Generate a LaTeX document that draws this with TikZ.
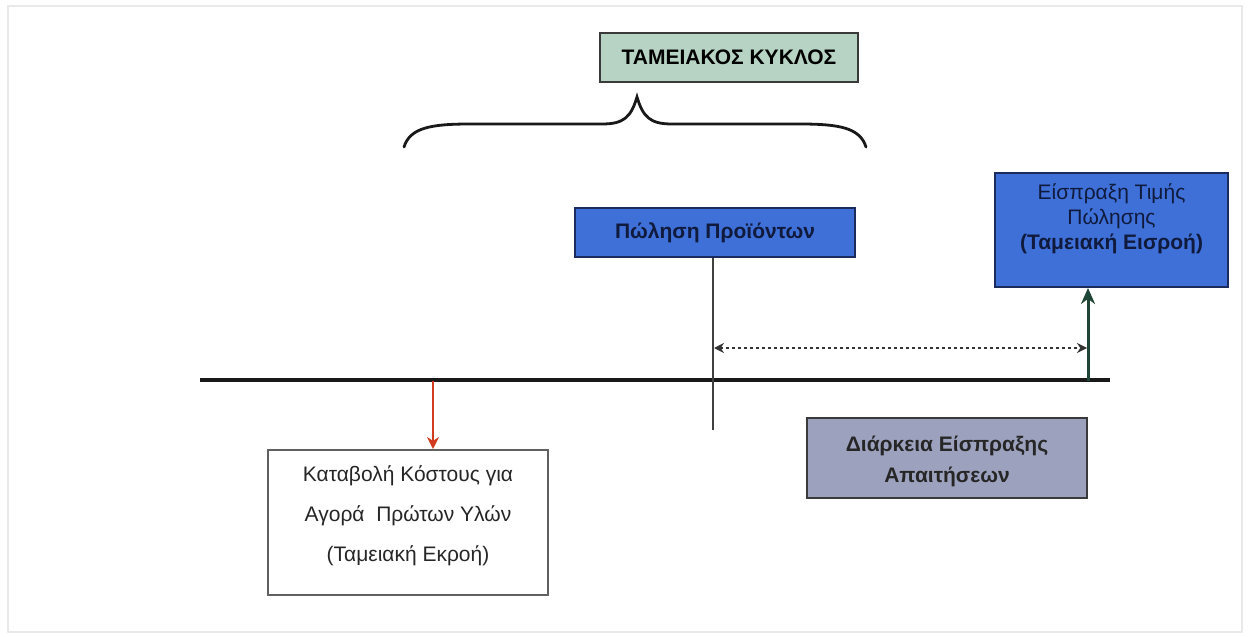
\documentclass[tikz,border=0pt]{standalone}
\usepackage{fontspec}
\setmainfont{Liberation Sans}
\usetikzlibrary{arrows.meta}
\definecolor{framegray}{HTML}{E8EAE8}
\definecolor{greenfill}{HTML}{B6D3C4}
\definecolor{bluefill}{HTML}{3E70D8}
\definecolor{navy}{HTML}{1C2B5E}
\definecolor{navytext}{HTML}{101A3C}
\definecolor{grayblue}{HTML}{9CA2BE}
\definecolor{redarrow}{HTML}{D23C1E}
\definecolor{darkgreen}{HTML}{1E4636}
\definecolor{boxedge}{HTML}{3A3A3A}
\tikzset{
  box/.style={draw=boxedge, line width=1pt, align=center, inner sep=0pt, font=\fontsize{10.5}{13}\selectfont},
  plain/.style={align=center, inner sep=0pt},
  titlebox/.style={box, fill=greenfill, font=\fontsize{10.5}{13}\selectfont\bfseries},
  bluebox/.style={box, fill=bluefill, draw=navy, text=navytext},
  graybox/.style={box, fill=grayblue, draw=boxedge},
  graytext/.style={plain, font=\fontsize{10.5}{15.5}\selectfont\bfseries, text=black!85},
  whitebox/.style={box, fill=white, draw=boxedge!80},
  whitetext/.style={plain, font=\fontsize{10.5}{20}\selectfont, text=black!85},
  bluetext/.style={plain, font=\fontsize{10.5}{12.5}\selectfont, text=navytext},
  timeline/.style={line width=2pt, draw=black!90},
  thinline/.style={line width=0.6pt, draw=black!75},
  brace/.style={line width=1.4pt, draw=black!90, line cap=round},
  dotarrow/.style={line width=0.6pt, draw=black!80, dash pattern=on 1.5pt off 1.5pt, {Stealth[length=5pt,width=5pt]}-{Stealth[length=5pt,width=5pt]}},
  redarr/.style={line width=1pt, draw=redarrow, -{Stealth[length=6pt,width=6pt]}},
  greenarr/.style={line width=1.5pt, draw=darkgreen, -{Stealth[length=8pt,width=7pt]}},
}
\begin{document}
\begin{tikzpicture}[x=0.5pt,y=-0.5pt]
\useasboundingbox (0,0) rectangle (1248,637);
\fill[white] (0,0) rectangle (1248,637);
\draw[framegray, line width=1pt] (8,6) rectangle (1242,632);

% title
\node[titlebox, minimum width=129pt, minimum height=24.5pt] (title) at (729,57.5) {ΤΑΜΕΙΑΚΟΣ ΚΥΚΛΟΣ};

% brace
\coordinate (bl) at (404,147);
\coordinate (br) at (866,147);
\coordinate (btip) at (637,97);
\draw[brace] (bl) .. controls (410,128) and (430,124) .. (470,124)
  -- (602,124) .. controls (624,124) and (631,117) .. (btip)
  .. controls (643,117) and (650,124) .. (672,124)
  -- (800,124) .. controls (840,124) and (860,128) .. (br);

% blue boxes
\node[bluebox, font=\fontsize{10.5}{13}\selectfont\bfseries, minimum width=140pt, minimum height=24.5pt] (sale) at (715,232.5) {Πώληση Προϊόντων};
\node[bluebox, minimum width=116.5pt, minimum height=57pt] (rcpt) at (1111.5,230) {};
\node[bluetext] (rcpttext) at (1111.5,219) {Είσπραξη Τιμής\\Πώλησης\\\textbf{(Ταμειακή Εισροή)}};

% gray box
\node[graybox, minimum width=140pt, minimum height=40pt] (dur) at (947,458) {};
\node[graytext] (durtext) at (947,461) {Διάρκεια Είσπραξης\\Απαιτήσεων};

% white box
\node[whitebox, minimum width=140pt, minimum height=72.5pt] (pay) at (408,522.5) {};
\node[whitetext] (paytext) at (408,516) {Καταβολή Κόστους για\\Αγορά\ \ Πρώτων Υλών\\(Ταμειακή Εκροή)};

% timeline
\coordinate (tl) at (200,380);
\coordinate (tr) at (1110,380);
\draw[timeline] (tl) -- (tr);

% vertical line under sale
\coordinate (vbot) at (713,430);
\draw[thinline] (sale.south -| vbot) -- (vbot);

% green arrow
\coordinate (gbase) at (1088,381);
\draw[greenarr] (gbase) -- (rcpt.south -| gbase);

% dotted double arrow
\coordinate (dl) at (714,348);
\coordinate (dr) at (1087,348);
\draw[dotarrow] (dl) -- (dr);

% red arrow
\coordinate (rtop) at (433,381);
\draw[redarr] (rtop) -- (pay.north -| rtop);
\end{tikzpicture}
\end{document}
